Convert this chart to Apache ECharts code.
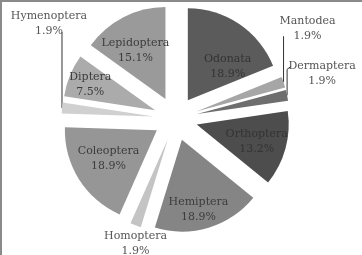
<!DOCTYPE html>
<html><head><meta charset="utf-8">
<script src="https://cdn.jsdelivr.net/npm/echarts@6/dist/echarts.min.js"></script>
<style>html,body{margin:0;padding:0;background:#fff}#c{width:362px;height:255px}</style>
</head><body><div id="c"></div>
<script>
const categories = ['Odonata','Mantodea','Dermaptera','Orthoptera','Hemiptera','Homoptera','Coleoptera','Hymenoptera','Diptera','Lepidoptera'];
const shares = [18.9, 1.9, 1.9, 13.2, 18.9, 1.9, 18.9, 1.9, 7.5, 15.1];
const sliceColors = ['#5b5b5b','#a6a6a6','#6e6e6e','#4d4d4d','#858585','#c4c4c4','#969696','#d0d0d0','#ababab','#9a9a9a'];
const labelColors = ['#333','#555','#555','#333','#3c3c3c','#555','#3c3c3c','#555','#3c3c3c','#3c3c3c'];

// layout (not data)
const CX = 175.5, CY = 118.6, R = 92, EXPLODE = 22, LABEL_K = 0.62;
const insideShift = {
  Odonata:     [8, 14],
  Orthoptera:  [5, 2],
  Hemiptera:   [0, 15],
  Coleoptera:  [0, -2],
  Diptera:     [-12, -4],
  Lepidoptera: [-4, 2]
};
const outsideLabels = {
  Mantodea:    { dx: 24,  dy: -54, line: 'up' },
  Dermaptera:  { dx: 35,  dy: -22, line: 'upRight' },
  Hymenoptera: { dx: -13, dy: -84, line: 'up' },
  Homoptera:   { dx: 0,   dy: 18,  line: 'none' }
};

const total = shares.reduce((a, b) => a + b, 0);
const series = [];
let cum = 0;
shares.forEach((v, i) => {
  const midDeg = 90 - (cum + v / 2) / total * 360;
  cum += v;
  const m = midDeg * Math.PI / 180;
  const ux = Math.cos(m), uy = -Math.sin(m);
  const cx = CX + EXPLODE * ux, cy = CY + EXPLODE * uy;
  const name = categories[i];
  const out = outsideLabels[name];
  const data = shares.map((s, j) => {
    if (j !== i) {
      return { name: categories[j], value: s, itemStyle: { color: 'rgba(0,0,0,0)' }, label: { show: false }, labelLine: { show: false } };
    }
    return {
      name: name, value: s,
      itemStyle: { color: sliceColors[i] },
      label: {
        show: true,
        position: out ? 'outside' : 'inside',
        formatter: () => name + '\n' + v.toFixed(1) + '%',
        color: labelColors[i],
        fontFamily: 'DejaVu Serif',
        fontSize: 11,
        lineHeight: 15,
        align: 'center'
      },
      labelLine: { show: !!(out && out.line !== 'none'), lineStyle: { color: '#333', width: 1 } }
    };
  });
  series.push({
    type: 'pie',
    center: [cx, cy],
    radius: R,
    startAngle: 90,
    clockwise: true,
    silent: true,
    avoidLabelOverlap: false,
    minShowLabelAngle: 0,
    emphasis: { disabled: true },
    animation: false,
    data: data,
    labelLayout: function (params) {
      if (params.dataIndex !== i) return {};
      if (!out) {
        const sh = insideShift[name] || [0, 0];
        return { x: cx + LABEL_K * R * ux + sh[0], y: cy + LABEL_K * R * uy + sh[1], align: 'center', verticalAlign: 'middle' };
      }
      const p0 = [cx + R * ux, cy + R * uy];
      const lx = p0[0] + out.dx, ly = p0[1] + out.dy;
      const res = { x: lx, y: ly, align: 'center', verticalAlign: 'middle' };
      if (out.line === 'up') res.labelLinePoints = [p0, [p0[0], ly + 8], [p0[0], ly + 8]];
      else if (out.line === 'upRight') res.labelLinePoints = [p0, [p0[0], ly - 4], [p0[0] + 4, ly - 7]];
      return res;
    }
  });
});

const chart = echarts.init(document.getElementById('c'), null, { renderer: 'canvas' });
chart.setOption({
  backgroundColor: '#fff',
  animation: false,
  graphic: [
    { type: 'line', shape: { x1: 1, y1: 0, x2: 1, y2: 255 }, style: { stroke: '#8a8a8a', lineWidth: 2 } },
    { type: 'line', shape: { x1: 0, y1: 1, x2: 362, y2: 1 }, style: { stroke: '#8a8a8a', lineWidth: 2 } }
  ],
  series: series
});
</script></body></html>
